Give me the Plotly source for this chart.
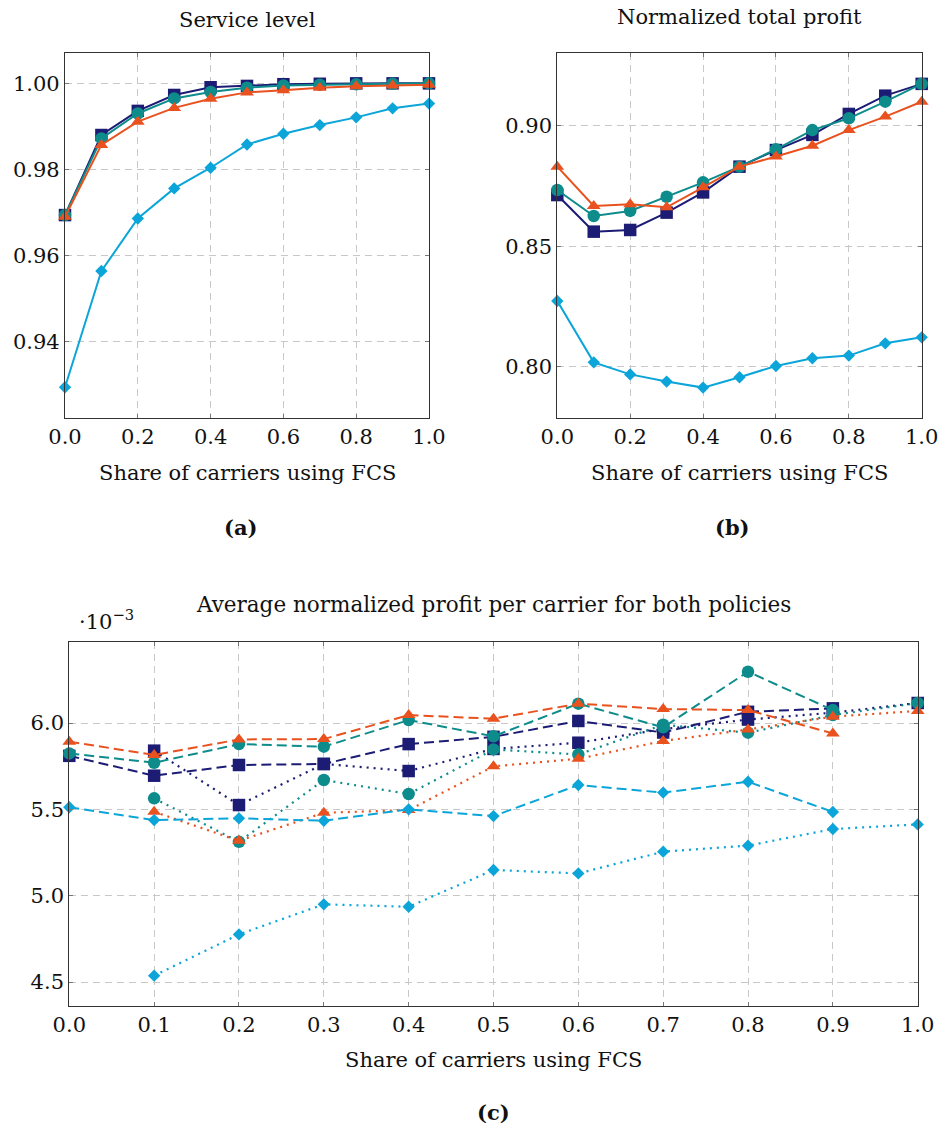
import plotly.graph_objects as go

# ---------------- data ----------------
share = [0.0, 0.1, 0.2, 0.3, 0.4, 0.5, 0.6, 0.7, 0.8, 0.9, 1.0]

# (a) Service level
svc_square   = [0.9694, 0.9880, 0.9936, 0.9973, 0.9991, 0.9994, 0.9998, 0.9999, 1.0000, 1.0000, 1.0000]
svc_circle   = [0.9694, 0.9872, 0.9930, 0.9965, 0.9980, 0.9990, 0.9995, 0.9997, 0.9998, 0.9999, 1.0000]
svc_triangle = [0.9690, 0.9857, 0.9911, 0.9943, 0.9964, 0.9979, 0.9984, 0.9990, 0.9993, 0.9995, 0.9997]
svc_diamond  = [0.9294, 0.9564, 0.9686, 0.9756, 0.9804, 0.9858, 0.9883, 0.9903, 0.9921, 0.9942, 0.9953]

# (b) Normalized total profit
tp_square   = [0.8713, 0.8561, 0.8568, 0.8640, 0.8724, 0.8831, 0.8900, 0.8963, 0.9050, 0.9126, 0.9175]
tp_circle   = [0.8734, 0.8626, 0.8647, 0.8706, 0.8766, 0.8831, 0.8903, 0.8983, 0.9032, 0.9101, 0.9175]
tp_triangle = [0.8831, 0.8668, 0.8675, 0.8662, 0.8745, 0.8831, 0.8873, 0.8918, 0.8983, 0.9039, 0.9101]
tp_diamond  = [0.8273, 0.8018, 0.7968, 0.7938, 0.7913, 0.7956, 0.8003, 0.8035, 0.8046, 0.8097, 0.8122]

# (c) Average normalized profit per carrier (x 1e-3)
share_dash = share[:10]   # dashed policy: 0.0 .. 0.9
share_dot = share[1:]     # dotted policy: 0.1 .. 1.0
avg_square_dash   = [5.810, 5.695, 5.757, 5.763, 5.878, 5.920, 6.012, 5.945, 6.065, 6.085]
avg_circle_dash   = [5.824, 5.770, 5.878, 5.863, 6.017, 5.923, 6.112, 5.975, 6.297, 6.075]
avg_triangle_dash = [5.892, 5.815, 5.905, 5.907, 6.046, 6.025, 6.112, 6.081, 6.075, 5.940]
avg_diamond_dash  = [5.512, 5.438, 5.448, 5.434, 5.500, 5.461, 5.641, 5.597, 5.660, 5.485]
avg_square_dot    = [5.840, 5.525, 5.763, 5.722, 5.850, 5.886, 5.965, 6.020, 6.060, 6.116]
avg_circle_dot    = [5.564, 5.312, 5.670, 5.589, 5.847, 5.818, 5.990, 5.944, 6.046, 6.116]
avg_triangle_dot  = [5.486, 5.318, 5.480, 5.496, 5.749, 5.793, 5.896, 5.963, 6.037, 6.070]
avg_diamond_dot   = [4.537, 4.776, 4.950, 4.936, 5.149, 5.129, 5.255, 5.290, 5.386, 5.413]

# ---------------- styles ----------------
NAVY = "#1c1c74"
TEAL = "#0e8c8c"
ORANGE = "#e9511e"
LBLUE = "#0ba5d9"
FONT = "DejaVu Serif"
W, H = 944, 1130

styles = {
    "square": dict(color=NAVY, symbol="square", size=12.5),
    "circle": dict(color=TEAL, symbol="circle", size=12.5),
    "triangle": dict(color=ORANGE, symbol="triangle-up", size=12),
    "diamond": dict(color=LBLUE, symbol="diamond", size=9.5),
}

fig = go.Figure()


def add(x, y, kind, xa, ya, dash="solid", width=2):
    st = styles[kind]
    fig.add_trace(go.Scatter(
        x=x, y=y, mode="lines+markers", xaxis=xa, yaxis=ya,
        line=dict(color=st["color"], width=width, dash=dash),
        marker=dict(color=st["color"], symbol=st["symbol"], size=st["size"], line=dict(width=0)),
        cliponaxis=False, showlegend=False, hoverinfo="x+y"))


for kind, ys in [("square", svc_square), ("circle", svc_circle),
                 ("triangle", svc_triangle), ("diamond", svc_diamond)]:
    add(share, ys, kind, "x", "y")

for kind, ys in [("square", tp_square), ("circle", tp_circle),
                 ("triangle", tp_triangle), ("diamond", tp_diamond)]:
    add(share, ys, kind, "x2", "y2")

DASH = "10px,5px"
DOT = "2px,5px"
for kind, yd, yt in [("square", avg_square_dash, avg_square_dot),
                     ("circle", avg_circle_dash, avg_circle_dot),
                     ("triangle", avg_triangle_dash, avg_triangle_dot),
                     ("diamond", avg_diamond_dash, avg_diamond_dot)]:
    add(share_dash, yd, kind, "x3", "y3", dash=DASH, width=2)
    add(share_dot, yt, kind, "x3", "y3", dash=DOT, width=2.2)


def px_dom(a, b, total):
    return [a / total, b / total]


def py_dom(top, bottom):
    return [1 - bottom / H, 1 - top / H]


common = dict(
    automargin=False,
    showline=True, linecolor="#333333", linewidth=1.2, mirror="ticks",
    ticks="inside", ticklen=4, tickcolor="#777777", tickwidth=1,
    showgrid=True, gridcolor="#c8c8c8", gridwidth=1, griddash="7px,5px",
    zeroline=False, tickfont=dict(family=FONT, size=21, color="#111111"),
)

fig.update_layout(
    template="none",
    width=W, height=H, margin=dict(l=0, r=0, t=0, b=0, pad=0, autoexpand=False),
    paper_bgcolor="white", plot_bgcolor="white",
    font=dict(family=FONT, size=21, color="#111111"),
    xaxis=dict(domain=px_dom(65, 429, W), anchor="y", range=[0, 1],
               tickvals=[0, 0.2, 0.4, 0.6, 0.8, 1.0], tickformat=".1f", **common),
    yaxis=dict(domain=py_dom(53, 418), anchor="x", range=[0.92226, 1.00705],
               tickvals=[0.94, 0.96, 0.98, 1.00], tickformat=".2f", **common),
    xaxis2=dict(domain=px_dom(557.3, 921.7, W), anchor="y2", range=[0, 1],
                tickvals=[0, 0.2, 0.4, 0.6, 0.8, 1.0], tickformat=".1f", **common),
    yaxis2=dict(domain=py_dom(53.3, 417.7), anchor="x2", range=[0.7788, 0.9302],
                tickvals=[0.80, 0.85, 0.90], tickformat=".2f", **common),
    xaxis3=dict(domain=px_dom(69.3, 917.7, W), anchor="y3", range=[0, 1],
                tickvals=share, tickformat=".1f", **common),
    yaxis3=dict(domain=py_dom(641.7, 1005.7), anchor="x3", range=[4.363, 6.471],
                tickvals=[4.5, 5.0, 5.5, 6.0], tickformat=".1f", **common),
)


def ann(text, x, y, size=21, bold=False, xanchor="center"):
    if bold:
        text = "<b>" + text + "</b>"
    fig.add_annotation(text=text, x=x / W, y=1 - y / H, xref="paper", yref="paper",
                       xanchor=xanchor, yanchor="middle", showarrow=False,
                       font=dict(family=FONT, size=size, color="#111111"))


ann("Service level", 247, 20)
ann("Normalized total profit", 739.5, 17)
ann("Share of carriers using FCS", 247, 473)
ann("Share of carriers using FCS", 739.5, 473)
ann("(a)", 240, 527, bold=True)
ann("(b)", 732, 527, bold=True)
ann("Average normalized profit per carrier for both policies", 493, 604, size=21.5)
ann("·10<sup>−3</sup>", 77, 620, xanchor="left")
ann("Share of carriers using FCS", 493, 1060)
ann("(c)", 493, 1112, bold=True)

fig.write_html("out.html")
